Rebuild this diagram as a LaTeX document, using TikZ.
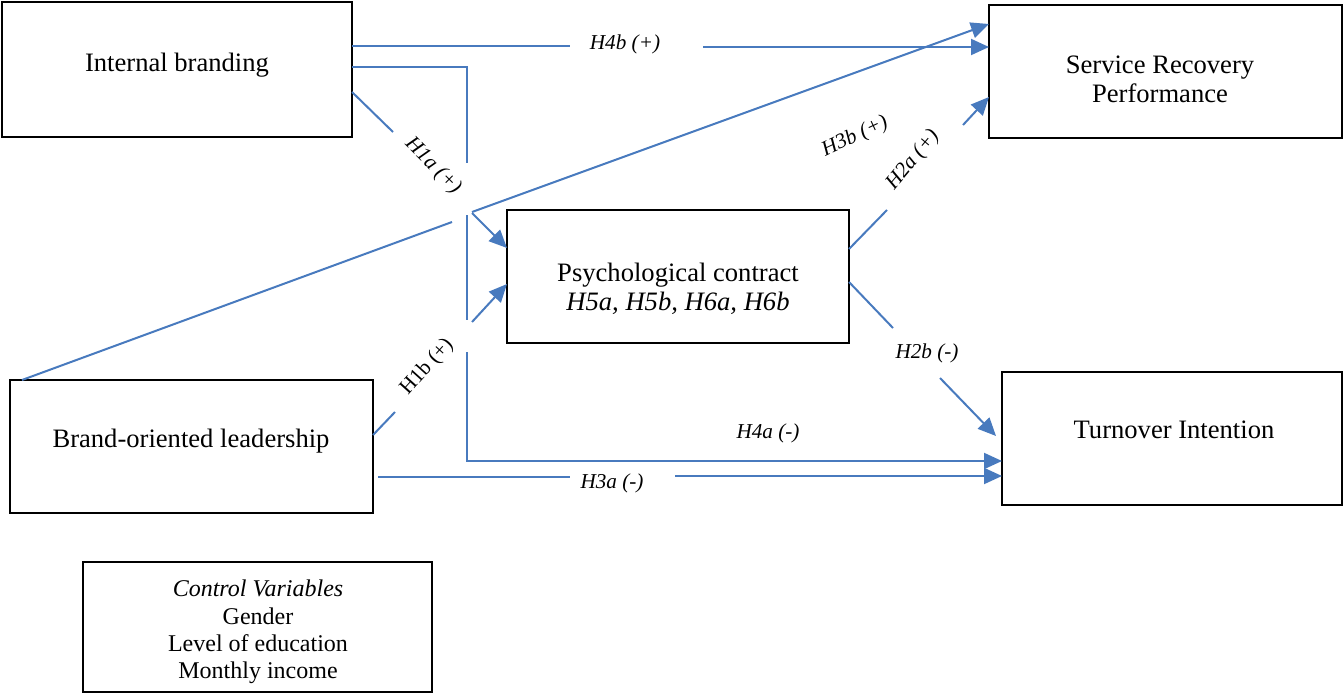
\documentclass[tikz,border=0pt]{standalone}
\usepackage{fontspec}
\setmainfont{Liberation Serif}
\usetikzlibrary{arrows.meta}
\definecolor{lnblue}{RGB}{72,122,190}
\begin{document}
\begin{tikzpicture}[x=0.5pt,y=-0.5pt,
  box/.style={draw=black,line width=1pt,inner sep=0pt,outer sep=0pt},
  txt/.style={font=\fontsize{13.3}{14.5}\selectfont,align=center,inner sep=0pt},
  small/.style={font=\fontsize{12}{13.6}\selectfont,align=center,inner sep=0pt},
  lab/.style={font=\fontsize{10.6}{12}\selectfont\itshape,inner sep=0pt},
  labup/.style={font=\fontsize{10.6}{12}\selectfont,inner sep=0pt},
  bl/.style={draw=lnblue,line width=1pt},
  arr/.style={-{Triangle[length=9pt,width=8pt]}}]
\useasboundingbox (0,0) rectangle (1344,696);

% boxes
\node[box,minimum width=175pt,minimum height=67.5pt] (ib) at (177,69.5) {};
\node[box,minimum width=176.5pt,minimum height=66.5pt] (srp) at (1165.5,71.5) {};
\node[box,minimum width=171pt,minimum height=66.5pt] (pc) at (678,276.5) {};
\node[box,minimum width=181.5pt,minimum height=66.5pt] (bol) at (191.5,446.5) {};
\node[box,minimum width=170pt,minimum height=66.5pt] (ti) at (1172,438.5) {};
\node[box,minimum width=174.5pt,minimum height=65pt] (cv) at (257.5,627) {};

% texts
\node[txt,anchor=base] (ibt) at (177,71) {Internal branding};
\node[txt] (srpt) at (1160,79.5) {Service Recovery\\Performance};
\node[txt] (pct) at (678,289) {Psychological contract\\\textit{H5a, H5b, H6a, H6b}};
\node[txt,anchor=base] (bolt) at (191,447) {Brand-oriented leadership};
\node[txt,anchor=base] (tit) at (1174,438) {Turnover Intention};
\node[small] (cvt) at (258,632) {\textit{Control Variables}\\Gender\\Level of education\\Monthly income};

% coordinates of gap ends
\coordinate (h4bA) at (570,46);
\coordinate (h4bB) at (703,47);
\coordinate (v1) at (467,67);
\coordinate (v2) at (467,163);
\coordinate (v3) at (467,215);
\coordinate (v4) at (467,320);
\coordinate (v5) at (467,352);
\coordinate (v6) at (467,461);
\coordinate (h3aS) at (378,477);
\coordinate (h3aA) at (570,477);
\coordinate (h3aB) at (675,476);
\coordinate (h3bS) at (22,380);
\coordinate (h3bA) at (452,222);
\coordinate (h3bB) at (472,212);
\coordinate (h3bT) at (989,24);
\coordinate (h1aS) at (353,92);
\coordinate (h1aA) at (393,132);
\coordinate (h1aB) at (472,213);
\coordinate (h1aT) at (507,248);
\coordinate (h1bS) at (373,435);
\coordinate (h1bA) at (395,412);
\coordinate (h1bB) at (472,322);
\coordinate (h1bT) at (507,284);
\coordinate (h2aS) at (849,249);
\coordinate (h2aA) at (887,210);
\coordinate (h2aB) at (963,125);
\coordinate (h2aT) at (989,97);
\coordinate (h2bS) at (849,282);
\coordinate (h2bA) at (893,328);
\coordinate (h2bB) at (940,378);
\coordinate (h2bT) at (996,436);

% H4b
\draw[bl] (ib.east |- h4bA) -- (h4bA);
\draw[bl,arr] (h4bB) -- (srp.west |- h4bB);
% H4a
\draw[bl] (ib.east |- v1) -- (v1) -- (v2);
\draw[bl] (v3) -- (v4);
\draw[bl,arr] (v5) -- (v6) -- (ti.west |- v6);
% H3a
\draw[bl] (h3aS) -- (h3aA);
\draw[bl,arr] (h3aB) -- (ti.west |- h3aB);
% H3b
\draw[bl] (bol.north west -| h3bS) -- (h3bA);
\draw[bl,arr] (h3bB) -- (srp.west |- h3bT);
% H1a
\draw[bl] (ib.east |- h1aS) -- (h1aA);
\draw[bl,arr] (h1aB) -- (pc.west |- h1aT);
% H1b
\draw[bl] (bol.east |- h1bS) -- (h1bA);
\draw[bl,arr] (h1bB) -- (pc.west |- h1bT);
% H2a
\draw[bl] (pc.east |- h2aS) -- (h2aA);
\draw[bl,arr] (h2aB) -- (srp.west |- h2aT);
% H2b
\draw[bl] (pc.east |- h2bS) -- (h2bA);
\draw[bl,arr] (h2bB) -- (h2bT);

% labels
\node[lab] (l4b) at (625,44) {H4b (+)};
\node[lab,rotate=-45] (l1a) at (433,166) {H1a (+)};
\node[lab,rotate=25] (l3b) at (855,137) {H3b (+)};
\node[lab,rotate=50] (l2a) at (913,160) {H2a (+)};
\node[labup,rotate=48] (l1b) at (427,367) {H1b (+)};
\node[lab] (l2b) at (927,353) {H2b (-)};
\node[lab] (l4a) at (768,433) {H4a (-)};
\node[lab] (l3a) at (612,483) {H3a (-)};
\end{tikzpicture}
\end{document}
